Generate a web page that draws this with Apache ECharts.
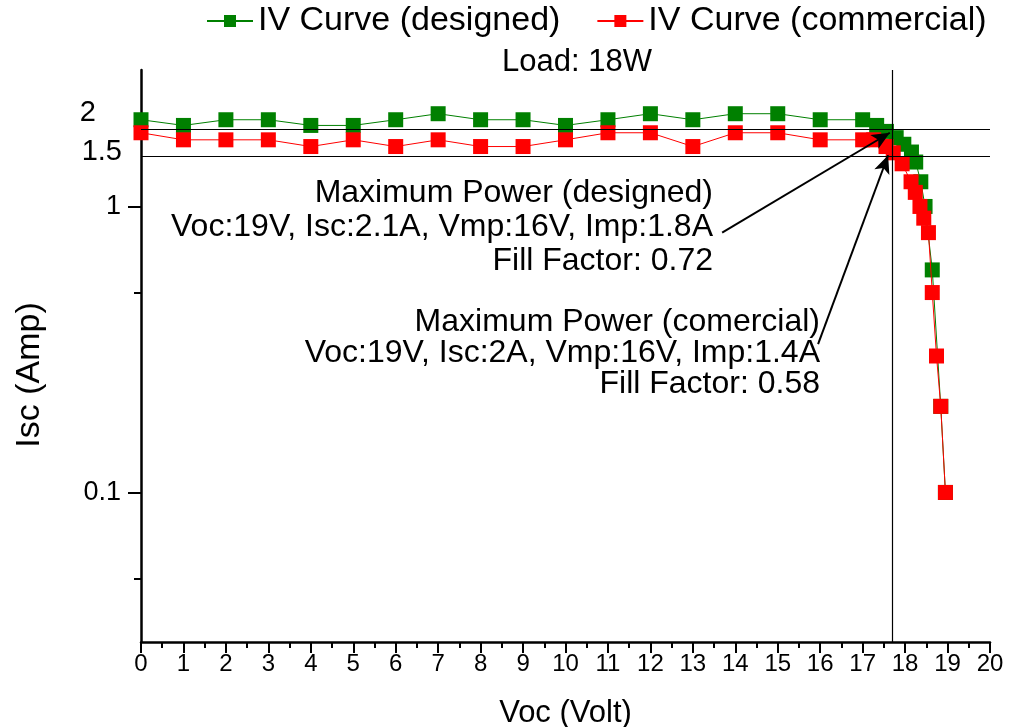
<!DOCTYPE html>
<html>
<head>
<meta charset="utf-8">
<script src="https://cdn.jsdelivr.net/npm/echarts@6/dist/echarts.min.js"></script>
<style>
  html, body { margin: 0; padding: 0; background: #fff; }
  #chart { width: 1010px; height: 727px; }
</style>
</head>
<body>
<div id="chart"></div>
<script>
// designed panel (green)
var designedV = [0, 1, 2, 3, 4, 5, 6, 7, 8, 9, 10, 11, 12, 13, 14, 15, 16, 17,
  17.33, 17.56, 17.79, 17.97, 18.15, 18.25, 18.37, 18.47, 18.64, 18.84, 18.95];
var designedI = [2.01, 1.92, 2.01, 2.01, 1.92, 1.92, 2.01, 2.11, 2.01, 2.01, 1.92, 2.01, 2.11, 2.01, 2.11, 2.11, 2.01, 2.01,
  1.92, 1.83, 1.74, 1.65, 1.55, 1.43, 1.22, 1.0, 0.6, 0.2, 0.1];

// commercial panel (red)
var commercialV = [0, 1, 2, 3, 4, 5, 6, 7, 8, 9, 10, 11, 12, 13, 14, 15, 16, 17,
  17.26, 17.55, 17.72, 17.93, 18.14, 18.24, 18.35, 18.44, 18.55, 18.64, 18.74, 18.84, 18.95];
var commercialI = [1.81, 1.71, 1.71, 1.71, 1.62, 1.71, 1.62, 1.71, 1.62, 1.62, 1.71, 1.81, 1.81, 1.62, 1.81, 1.81, 1.71, 1.71,
  1.71, 1.62, 1.54, 1.41, 1.22, 1.12, 1.0, 0.91, 0.81, 0.5, 0.3, 0.2, 0.1];

var seriesNames = ['IV Curve (designed)', 'IV Curve (commercial)'];

// reference lines
var refCurrents = [1.86, 1.5];
var refCurrentLabels = ['2', '1.5'];
var refVoltage = 17.7;

// arrows: [fromV, fromI, toV, toI]
var arrowDesigned = [13.69, 0.81, 17.64, 1.81];
var arrowCommercial = [15.95, 0.33, 17.6, 1.51];

var yMajorTicks = [0.1, 1];
var yMinorTicks = [0.05, 0.5];

var noteDesigned = ['Maximum Power (designed)', 'Voc:19V, Isc:2.1A, Vmp:16V, Imp:1.8A', 'Fill Factor: 0.72'];
var noteCommercial = ['Maximum Power (comercial)', 'Voc:19V, Isc:2A, Vmp:16V, Imp:1.4A', 'Fill Factor: 0.58'];

function pairs(xs, ys) {
  return xs.map(function (x, i) { return [x, ys[i]]; });
}

var FONT = "'Liberation Sans', Arial, sans-serif";
var NARROW = "'Liberation Sans Narrow', 'Liberation Sans', Arial, sans-serif";

var chart = echarts.init(document.getElementById('chart'));

chart.setOption({
  backgroundColor: '#fff',
  animation: false,
  grid: { left: 141, right: 20, top: 70, bottom: 85, outerBoundsMode: 'none' },
  legend: {
    left: 206,
    top: 4,
    width: 804,
    padding: 0,
    itemWidth: 46,
    itemHeight: 15,
    itemGap: 36,
    textStyle: { fontFamily: FONT, fontSize: 34, color: '#000' },
    data: seriesNames
  },
  graphic: [
    { type: 'text', x: 577, y: 62, style: { text: 'Load: 18W', font: '31px ' + FONT, fill: '#000', align: 'center', verticalAlign: 'middle' } },
    { type: 'text', x: 96, y: 113, style: { text: refCurrentLabels[0], font: '29px ' + FONT, fill: '#000', align: 'right', verticalAlign: 'middle' } },
    { type: 'text', x: 122, y: 152, style: { text: refCurrentLabels[1], font: '29px ' + FONT, fill: '#000', align: 'right', verticalAlign: 'middle' } },
    { type: 'text', x: 30, y: 375, rotation: Math.PI / 2, style: { text: 'Isc (Amp)', font: '34px ' + FONT, fill: '#000', align: 'center', verticalAlign: 'middle' } },
    { type: 'text', x: 713, y: 176, style: { text: noteDesigned.join('\n'), font: '32px ' + FONT, fill: '#000', align: 'right', lineHeight: 34 } },
    { type: 'text', x: 820, y: 307, style: { text: noteCommercial.join('\n'), font: '32px ' + FONT, fill: '#000', align: 'right', lineHeight: 31 } }
  ],
  xAxis: {
    type: 'value',
    min: 0,
    max: 20,
    interval: 1,
    name: 'Voc (Volt)',
    nameLocation: 'middle',
    nameGap: 56,
    nameTextStyle: { fontFamily: FONT, fontSize: 31, color: '#000' },
    axisLine: { lineStyle: { color: '#000', width: 2.5 } },
    axisTick: { length: 11, lineStyle: { color: '#000', width: 2 } },
    minorTick: { show: true, splitNumber: 2, length: 6, lineStyle: { color: '#000', width: 2 } },
    axisLabel: { margin: 10, fontFamily: NARROW, fontSize: 24, color: '#000' },
    splitLine: { show: false }
  },
  yAxis: [{
    type: 'log',
    logBase: 10,
    min: 0.03,
    max: 3,
    position: 'left',
    axisLine: { show: true, lineStyle: { color: '#000', width: 2.5 } },
    axisTick: { show: true, length: 13, customValues: yMajorTicks, lineStyle: { color: '#000', width: 2 } },
    axisLabel: { margin: 20, customValues: yMajorTicks, fontFamily: FONT, fontSize: 27, color: '#000' },
    splitLine: { show: false }
  }, {
    type: 'log',
    logBase: 10,
    min: 0.03,
    max: 3,
    position: 'left',
    axisLine: { show: false },
    axisTick: { show: true, length: 7, customValues: yMinorTicks, lineStyle: { color: '#000', width: 2 } },
    axisLabel: { show: false },
    splitLine: { show: false }
  }],
  series: [{
    name: seriesNames[0],
    type: 'line',
    data: pairs(designedV, designedI),
    symbol: 'rect',
    symbolSize: 15,
    itemStyle: { color: '#008000' },
    lineStyle: { color: '#008000', width: 1 },
    z: 3,
    markLine: {
      silent: true,
      symbol: 'none',
      label: { show: false },
      lineStyle: { color: '#000', width: 1.2, type: 'solid' },
      data: [
        { yAxis: refCurrents[0] },
        { yAxis: refCurrents[1] },
        { xAxis: refVoltage }
      ]
    }
  }, {
    name: seriesNames[1],
    type: 'line',
    data: pairs(commercialV, commercialI),
    symbol: 'rect',
    symbolSize: 15,
    itemStyle: { color: '#ff0000' },
    lineStyle: { color: '#ff0000', width: 1 },
    z: 4,
    markLine: {
      silent: true,
      symbol: ['none', 'arrow'],
      symbolSize: [12, 18],
      label: { show: false },
      lineStyle: { color: '#000', width: 2, type: 'solid' },
      data: [
        [{ coord: [arrowDesigned[0], arrowDesigned[1]] }, { coord: [arrowDesigned[2], arrowDesigned[3]] }],
        [{ coord: [arrowCommercial[0], arrowCommercial[1]] }, { coord: [arrowCommercial[2], arrowCommercial[3]] }]
      ]
    }
  }]
});
</script>
</body>
</html>
